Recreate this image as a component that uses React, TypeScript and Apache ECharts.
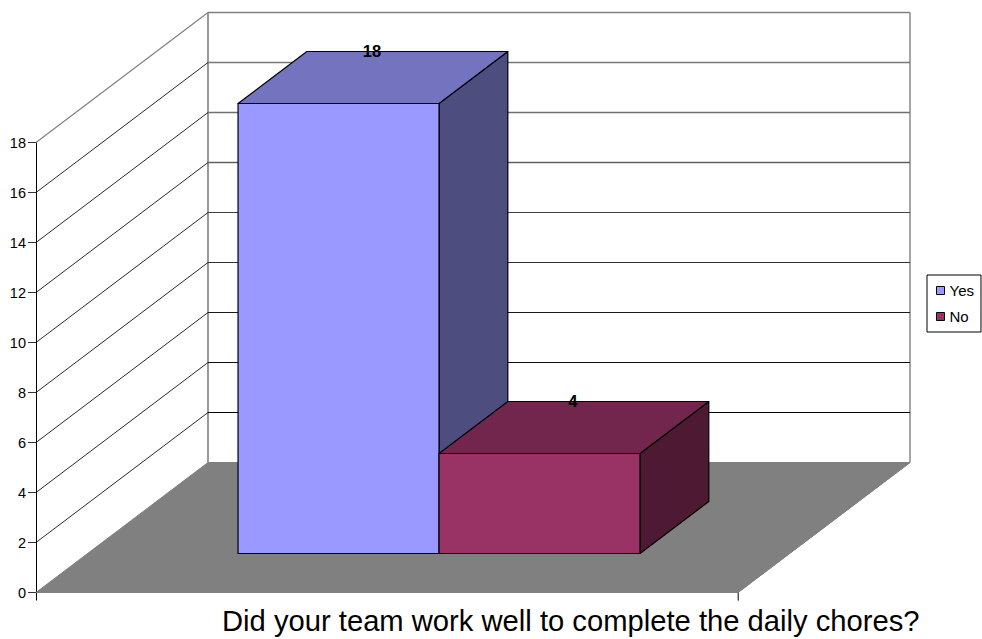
import React, { useEffect, useRef } from "react";
import * as echarts from "echarts";

const categories = [""];
const seriesNames = ["Yes", "No"];
const yesValues = [18];
const noValues = [4];
const axisTicks = [0, 2, 4, 6, 8, 10, 12, 14, 16, 18];
const wallLines = [0, 2, 4, 6, 8, 10, 12, 14, 16, 18];
const chartTitle = "Did your team work well to complete the daily chores?";

const FONT = '"Liberation Sans", Arial, sans-serif';
const DX = 172;
const DY = -130;
const DEPTH_FRONT = 0.3;
const DEPTH_BACK = 0.7;
const BAR_W = 0.2863;

const GREY = "#808080";
const backShade: Record<number, string> = {
  2: "#000000",
  4: "#0c0c0c",
  6: "#1a1a1a",
  8: "#303030",
  10: "#404040",
  12: "#606060",
  14: "#707070",
  16: "#787878",
  18: "#808080",
};

function renderWall(params: any, api: any) {
  const v = api.value(0);
  const top = api.coord([0, 18])[1];
  const base = api.coord([0, 0]);
  const band = api.size([1, 0])[0];
  const x0 = base[0] - band / 2;
  const x1 = base[0] + band / 2;
  const y = api.coord([0, v])[1];
  const children: any[] = [];
  if (v === 0) {
    children.push({
      type: "polygon",
      shape: { points: [[x0, base[1]], [x0 + DX, base[1] + DY], [x1 + DX, base[1] + DY], [x1, base[1]]] },
      style: { fill: GREY, stroke: GREY, lineWidth: 1 },
    });
    children.push({
      type: "line",
      shape: { x1: x0 + DX, y1: top + DY, x2: x0 + DX, y2: base[1] + DY },
      style: { stroke: GREY, lineWidth: 1.6, fill: "none" },
    });
    children.push({
      type: "line",
      shape: { x1: x1 + DX, y1: top + DY, x2: x1 + DX, y2: base[1] + DY },
      style: { stroke: GREY, lineWidth: 1.4, fill: "none" },
    });
    children.push({
      type: "line",
      shape: { x1: x1, y1: base[1], x2: x1 + DX, y2: base[1] + DY },
      style: { stroke: GREY, lineWidth: 1, fill: "none" },
    });
    children.push({
      type: "line",
      shape: { x1: x1, y1: base[1], x2: x1, y2: base[1] + 8 },
      style: { stroke: GREY, lineWidth: 1.2, fill: "none" },
    });
  } else {
    const diagDark = v < 18;
    children.push({
      type: "line",
      shape: { x1: x0, y1: y, x2: x0 + DX, y2: y + DY },
      style: { stroke: diagDark ? "#111111" : GREY, lineWidth: diagDark ? 0.9 : 1.2, fill: "none" },
    });
    children.push({
      type: "line",
      shape: { x1: x0 + DX, y1: y + DY, x2: x1 + DX, y2: y + DY },
      style: { stroke: backShade[v], lineWidth: v >= 12 ? 1.3 : 1, fill: "none" },
    });
  }
  return { type: "group", children };
}

function makeBar(offsetFromCenter: number, front: string, topFace: string, side: string) {
  return function (params: any, api: any) {
    const val = api.value(1);
    const base = api.coord([api.value(0), 0]);
    const head = api.coord([api.value(0), val]);
    const band = api.size([1, 0])[0];
    const xl = base[0] + offsetFromCenter * band;
    const xr = xl + BAR_W * band;
    const f = (x: number, y: number, d: number) => [x + DX * d, y + DY * d];
    const border = { stroke: "#000000", lineWidth: 1.2, lineJoin: "round" };
    const a = f(xl, base[1], DEPTH_FRONT);
    const b = f(xr, base[1], DEPTH_FRONT);
    const c = f(xr, head[1], DEPTH_FRONT);
    const d = f(xl, head[1], DEPTH_FRONT);
    const e = f(xl, head[1], DEPTH_BACK);
    const g = f(xr, head[1], DEPTH_BACK);
    const h = f(xr, base[1], DEPTH_BACK);
    const mid = f((xl + xr) / 2, head[1], (DEPTH_FRONT + DEPTH_BACK) / 2);
    return {
      type: "group",
      children: [
        { type: "polygon", shape: { points: [b, h, g, c] }, style: { fill: side, ...border } },
        { type: "polygon", shape: { points: [d, c, g, e] }, style: { fill: topFace, ...border } },
        { type: "polygon", shape: { points: [a, b, c, d] }, style: { fill: front, ...border } },
        {
          type: "text",
          style: {
            text: String(val),
            x: mid[0] - 1,
            y: g[1] - 1,
            align: "center",
            verticalAlign: "middle",
            font: `bold 16.5px ${FONT}`,
            fill: "#000000",
          },
        },
      ],
    };
  };
}

export default function App() {
  const ref = useRef<HTMLDivElement>(null);
  useEffect(() => {
    document.body.style.margin = "0";
    const chart = echarts.init(ref.current as HTMLDivElement, undefined, { renderer: "svg" });
    chart.setOption({
      animation: false,
      backgroundColor: "#ffffff",
      title: {
        text: chartTitle,
        left: 222,
        top: 606,
        padding: 0,
        textStyle: { fontFamily: FONT, fontSize: 29.2, fontWeight: "normal", color: "#000000" },
      },
      grid: { left: 36, top: 142.5, width: 702, height: 450, containLabel: false },
      legend: {
        data: seriesNames,
        orient: "vertical",
        left: 927,
        top: 275,
        padding: [8, 7, 8, 9],
        itemWidth: 8,
        itemHeight: 8,
        itemGap: 11,
        icon: "rect",
        borderColor: "#000000",
        borderWidth: 1,
        backgroundColor: "#ffffff",
        itemStyle: { borderColor: "#000000", borderWidth: 1 },
        textStyle: { fontFamily: FONT, fontSize: 15, color: "#000000" },
      },
      xAxis: {
        type: "category",
        data: categories,
        z: 5,
        axisLine: { lineStyle: { color: "#000000", width: 1 } },
        axisTick: { show: true, length: 8, alignWithLabel: false, lineStyle: { color: "#000000" } },
        axisLabel: { show: false },
      },
      yAxis: {
        type: "value",
        min: 0,
        max: 18,
        interval: 2,
        z: 5,
        splitLine: { show: false },
        axisLine: { show: true, lineStyle: { color: "#000000", width: 1 } },
        axisTick: { show: true, length: 8, lineStyle: { color: "#333333" } },
        axisLabel: { fontFamily: FONT, fontSize: 14.5, color: "#000000", margin: 10, customValues: axisTicks },
      },
      series: [
        {
          type: "custom",
          name: "walls",
          silent: true,
          renderItem: renderWall,
          encode: { y: 0 },
          data: wallLines.map((v) => [v]),
          z: 6,
        },
        {
          type: "custom",
          name: seriesNames[0],
          itemStyle: { color: "#9999FF" },
          renderItem: makeBar(-0.2857, "#9999FF", "#7373BF", "#4D4D80"),
          encode: { x: 0, y: 1 },
          data: yesValues.map((v, i) => [i, v]),
          z: 7,
        },
        {
          type: "custom",
          name: seriesNames[1],
          itemStyle: { color: "#993366" },
          renderItem: makeBar(0.0006, "#993366", "#73264D", "#4D1933"),
          encode: { x: 0, y: 1 },
          data: noValues.map((v, i) => [i, v]),
          z: 8,
        },
      ],
    });
    return () => chart.dispose();
  }, []);
  return <div ref={ref} style={{ width: 982, height: 639 }} />;
}
